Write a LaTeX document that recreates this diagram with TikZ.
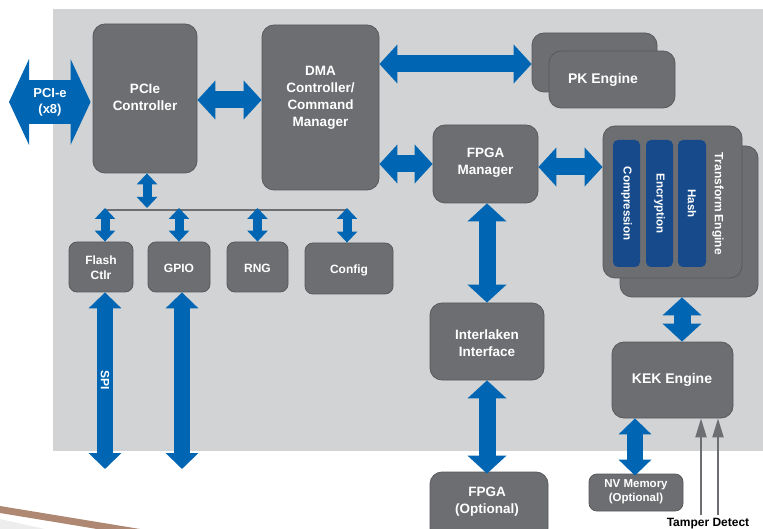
\documentclass[tikz,border=0pt]{standalone}
\usepackage{fontspec}
\setmainfont{Liberation Sans}
\usetikzlibrary{arrows.meta}
\definecolor{bggray}{HTML}{D1D3D4}
\definecolor{boxgray}{HTML}{6D6E71}
\definecolor{boxedge}{HTML}{58595B}
\definecolor{arrblue}{HTML}{0066B3}
\definecolor{barblue}{HTML}{164A8A}
\definecolor{swoosh}{HTML}{AE8873}
\tikzset{
  box/.style={draw=boxedge, line width=0.8pt, fill=boxgray, rounded corners=12pt, text=white, align=center, inner sep=0pt},
  sbox/.style={box, rounded corners=8pt},
  bar/.style={fill=barblue, rounded corners=5pt, inner sep=0pt},
  txt/.style={text=white, align=center, font=\fontsize{13.5}{17}\selectfont\bfseries},
  stxt/.style={text=white, align=center, font=\fontsize{12}{15}\selectfont\bfseries},
  bartxt/.style={text=white, rotate=-90, font=\fontsize{11.5}{13}\selectfont\bfseries},
  bigarr/.style={draw=arrblue, line width=17pt, {Triangle[width=38pt,length=18pt]}-{Triangle[width=38pt,length=18pt]}},
  medarr/.style={draw=arrblue, line width=16pt, {Triangle[width=32pt,length=16pt]}-{Triangle[width=32pt,length=16pt]}},
  smallarr/.style={draw=arrblue, line width=9pt, {Triangle[width=20pt,length=11pt]}-{Triangle[width=20pt,length=11pt]}},
  pciarr/.style={draw=arrblue, line width=44pt, {Triangle[width=85pt,length=20pt]}-{Triangle[width=85pt,length=20pt]}},
  tamper/.style={draw=boxgray, line width=2pt, -{Triangle[width=11pt,length=19pt]}},
}
\begin{document}
\begin{tikzpicture}[x=1pt,y=-1pt]
\useasboundingbox (0,0) rectangle (763,529);
% background
\fill[bggray] (53,9) rectangle (763,451);
% decorative swoosh
\fill[black!7] (0,519) -- (45,529) -- (0,529) -- cycle;
\fill[swoosh] (0,506) -- (140,529) -- (97,529) -- (0,513) -- cycle;

% main boxes
\node[box, minimum width=104pt, minimum height=149pt] (pcie) at (145,98.5) {};
\node[txt] (pcietxt) at (145,97) {PCIe\\Controller};
\node[box, minimum width=117pt, minimum height=165pt] (dma) at (320.5,107.5) {};
\node[txt] (dmatxt) at (320.5,98) {DMA\\Controller/\\Command\\Manager};
\node[box, minimum width=105pt, minimum height=78pt] (fpgam) at (485.5,164) {};
\node[txt] (fpgamtxt) at (485.5,163) {FPGA\\Manager};
% PK engine
\node[box, minimum width=125pt, minimum height=59pt] (pkback) at (594.5,62.5) {};
\node[box, minimum width=126pt, minimum height=57pt] (pk) at (612,79.5) {};
\node[txt, font=\fontsize{14}{17}\selectfont\bfseries] (pktxt) at (603,80) {PK Engine};
% transform engine
\node[box, minimum width=138pt, minimum height=151pt] (tback) at (689,221.5) {};
\node[box, minimum width=139pt, minimum height=152pt] (tfront) at (672.5,202) {};
\node[bar, minimum width=27pt, minimum height=127pt] (comp) at (626.5,203.5) {};
\node[bar, minimum width=27pt, minimum height=127pt] (enc) at (659.5,203.5) {};
\node[bar, minimum width=28pt, minimum height=127pt] (hash) at (692,203.5) {};
\node[bartxt] at (comp.center) {Compression};
\node[bartxt] at (enc.center) {Encryption};
\node[bartxt] at (hash.center) {Hash};
\node[bartxt, font=\fontsize{12}{13}\selectfont\bfseries] (ttxt) at (718,204) {Transform Engine};
% interlaken, fpga optional
\node[box, minimum width=114pt, minimum height=77pt] (inter) at (487,341.5) {};
\node[txt] (intertxt) at (487,343) {Interlaken\\Interface};
\node[box, minimum width=118pt, minimum height=68pt] (fpgaopt) at (489,506) {};
\node[txt] (fpgaopttxt) at (487,501.5) {FPGA\\(Optional)};
% KEK, NV
\node[box, minimum width=121pt, minimum height=76pt] (kek) at (672.5,380) {};
\node[txt, font=\fontsize{14}{17}\selectfont\bfseries] (kektxt) at (672,380) {KEK Engine};
\node[sbox, minimum width=94pt, minimum height=37pt] (nv) at (636,492.5) {};
\node[stxt, font=\fontsize{11.5}{14}\selectfont\bfseries] (nvtxt) at (636,491.5) {NV Memory\\(Optional)};
% small boxes
\node[sbox, minimum width=64pt, minimum height=50pt] (flash) at (101,267) {};
\node[stxt] (flashtxt) at (101,268) {Flash\\Ctlr};
\node[sbox, minimum width=62pt, minimum height=50pt] (gpio) at (179,267) {};
\node[stxt] (gpiotxt) at (179,268) {GPIO};
\node[sbox, minimum width=61pt, minimum height=50pt] (rng) at (257.5,267) {};
\node[stxt] (rngtxt) at (257.5,268) {RNG};
\node[sbox, minimum width=88pt, minimum height=51pt] (config) at (349,268.5) {};
\node[stxt] (configtxt) at (349,270) {Config};

% bus
\coordinate (busL) at (105,210);
\coordinate (busR) at (347,210);
\draw[boxgray, line width=1.5pt] (busL) -- (busR);
\coordinate (busPC) at (147,208);
\draw[smallarr] (pcie.south -| busPC) -- (busPC);
\draw[smallarr] ([yshift=2pt]busL) -- (busL |- flash.north);
\draw[smallarr] ([yshift=2pt]busL -| gpio) -- (gpio.north);
\draw[smallarr] ([yshift=2pt]busL -| rng) -- (rng.north);
\draw[smallarr] ([yshift=2pt]busR) -- (busR |- config.north);

% PCI-e
\coordinate (pciL) at (9,102);
\draw[pciarr] (pciL) -- ([xshift=-2pt]pcie.west |- pciL);
\node[stxt, font=\fontsize{13}{16}\selectfont\bfseries] at (50,102) {PCI-e\\(x8)};

% big arrows
\coordinate (y100) at (0,100);
\draw[bigarr] (pcie.east |- y100) -- (dma.west |- y100);
\coordinate (y64) at (0,64);
\draw[bigarr] (dma.east |- y64) -- (pkback.west |- y64);
\draw[bigarr] (dma.east |- fpgam.west) -- (fpgam.west);
\coordinate (y167) at (0,167);
\draw[bigarr] (fpgam.east |- y167) -- (tfront.west |- y167);
\draw[bigarr] (fpgam.south -| inter.north) -- (inter.north);
\draw[bigarr] (inter.south) -- ([yshift=-2pt]inter.south |- fpgaopt.north);
\coordinate (x682) at (682,0);
\draw[bigarr] (x682 |- tback.south) -- (x682 |- kek.north);
\coordinate (x635) at (635,0);
\draw[medarr] (x635 |- kek.south) -- ([yshift=-2pt]x635 |- nv.north);

% SPI / GPIO
\coordinate (spiEnd) at (105,469);
\coordinate (gpioEnd) at (182,469);
\draw[medarr] (spiEnd |- flash.south) -- (spiEnd);
\draw[medarr] (gpioEnd |- gpio.south) -- (gpioEnd);
\node[bartxt, font=\fontsize{12}{13}\selectfont\bfseries] at (105,380) {SPI};

% tamper
\coordinate (t1) at (701,515);
\coordinate (t2) at (718,515);
\draw[tamper] (t1) -- (t1 |- kek.south);
\draw[tamper] (t2) -- (t2 |- kek.south);
\node[anchor=north, font=\fontsize{12}{13}\selectfont\bfseries, inner sep=0pt] (tamptxt) at (708,518) {Tamper Detect};
\end{tikzpicture}
\end{document}
